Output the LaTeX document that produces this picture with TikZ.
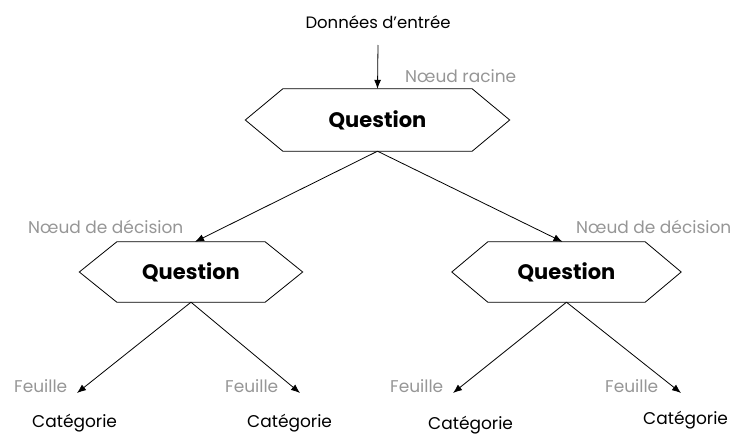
\documentclass[tikz,border=0pt]{standalone}
\usepackage{fontspec}
\setmainfont{Poppins}
\usetikzlibrary{arrows.meta,calc}
\definecolor{labelgray}{RGB}{150,150,150}
\tikzset{
  qbox/.style={minimum height=60pt, inner sep=0pt, font=\bfseries\fontsize{21}{23}\selectfont},
  hexline/.style={draw=black, line width=0.8pt},
  link/.style={line width=0.8pt, -{Latex[length=9pt,width=7pt]}},
  greylabel/.style={text=labelgray, font=\fontsize{17}{19}\selectfont, inner sep=0pt, anchor=base west},
  plainlabel/.style={font=\fontsize{17}{19}\selectfont, inner sep=0pt, anchor=base west},
}
% hexagon drawn around a question node: #1 node name, #2 depth of the side points
\newcommand\hexaround[2]{%
  \draw[hexline] (#1.north west) -- (#1.north east) -- ($(#1.east)+(#2,0)$)
    -- (#1.south east) -- (#1.south west) -- ($(#1.west)-(#2,0)$) -- cycle;}
\begin{document}
\begin{tikzpicture}[x=1pt,y=-1pt]
  \useasboundingbox (0,0) rectangle (732,434);

  % input and root question
  \node[plainlabel, font=\fontsize{16.5}{19}\selectfont, anchor=base] (input) at (378,28) {Données d’entrée};
  \node[qbox, minimum width=189pt, minimum height=62pt] (root) at (377.5,120) {Question};
  \hexaround{root}{37.5}
  \node[greylabel] (rootlbl) at (405,82) {Nœud racine};
  \coordinate (instart) at (378,45);
  \draw[link] (instart) -- (root.north);

  % decision nodes
  \node[qbox, minimum width=148pt] (qleft) at (191,272) {Question};
  \hexaround{qleft}{37.5}
  \node[qbox, minimum width=157pt] (qright) at (566.5,272) {Question};
  \hexaround{qright}{36}
  \node[greylabel] (declblL) at (28,233) {Nœud de décision};
  \node[greylabel] (declblR) at (576,233) {Nœud de décision};
  \draw[link] (root.south) -- ([xshift=4pt]qleft.north);
  \draw[link] (root.south) -- ([xshift=-4pt]qright.north);

  % leaves
  \coordinate (leafA) at (77,393);
  \coordinate (leafB) at (300,393);
  \coordinate (leafC) at (453,393);
  \coordinate (leafD) at (681,393);
  \draw[link] (qleft.south) -- (leafA);
  \draw[link] (qleft.south) -- (leafB);
  \draw[link] (qright.south) -- (leafC);
  \draw[link] (qright.south) -- (leafD);
  \node[greylabel] (fA) at (14,392) {Feuille};
  \node[greylabel] (fB) at (225,392) {Feuille};
  \node[greylabel] (fC) at (390,392) {Feuille};
  \node[greylabel] (fD) at (605,392) {Feuille};
  \node[plainlabel] (cA) at (32,427) {Catégorie};
  \node[plainlabel] (cB) at (247,427) {Catégorie};
  \node[plainlabel] (cC) at (428,429) {Catégorie};
  \node[plainlabel] (cD) at (643,424) {Catégorie};
\end{tikzpicture}
\end{document}
